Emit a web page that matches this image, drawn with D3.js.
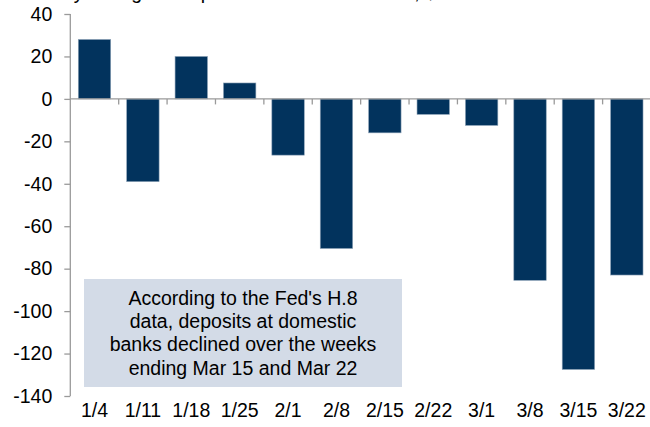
<!DOCTYPE html>
<html>
<head>
<meta charset="utf-8">
<script src="https://cdn.jsdelivr.net/npm/d3@7"></script>
<style>
  body { margin: 0; background: #fff; }
  svg { display: block; font-family: Arial, 'Liberation Sans', sans-serif; }
</style>
</head>
<body>
<div id="chart"></div>
<script>
// data (weekly change, $bn)
const weeks = ['1/4', '1/11', '1/18', '1/25', '2/1', '2/8', '2/15', '2/22', '3/1', '3/8', '3/15', '3/22']
const changes = [28, -39, 20, 7.5, -26.5, -70.5, -16, -7.3, -12.5, -85.5, -127.5, -83]
const yTicks = [40, 20, 0, -20, -40, -60, -80, -100, -120, -140]
const noteLines = ["According to the Fed's H.8", 'data, deposits at domestic', 'banks declined over the weeks', 'ending Mar 15 and Mar 22']

const width = 650
const height = 427
const fontSize = 19.5
const barColor = '#02335d'
const axisColor = '#9a9a9a'

const svg = d3.select('#chart').append('svg')
  .attr('width', width)
  .attr('height', height)

const x = d3.scaleBand()
  .domain(weeks)
  .range([70.3, 651])
  .paddingInner(0.33)
  .paddingOuter(0.165)

const y = d3.scaleLinear()
  .domain([-140, 40])
  .range([396, 14])

// title, mostly cut off above the window
svg.append('text')
  .attr('x', 20)
  .attr('y', -1)
  .attr('font-size', fontSize)
  .attr('fill', '#000')
  .text('Weekly change in deposits at domestic banks, $bn')

// bars
svg.append('g').selectAll('rect')
  .data(changes)
  .join('rect')
  .attr('x', (d, i) => x(weeks[i]))
  .attr('width', x.bandwidth())
  .attr('y', d => y(Math.max(0, d)))
  .attr('height', d => Math.abs(y(d) - y(0)))
  .attr('fill', barColor)
  .attr('stroke', '#8ea3b8')
  .attr('stroke-width', 0.6)

// y axis
const yAxis = svg.append('g')
  .attr('transform', 'translate(70.3,0)')
  .call(d3.axisLeft(y).tickValues(yTicks).tickSize(6).tickPadding(12).tickFormat(d3.format('d')))
yAxis.select('.domain').attr('stroke', axisColor).attr('stroke-width', 1.3)
  .attr('d', `M0,${y(40)}V${y(-140)}`)
yAxis.selectAll('.tick line').attr('stroke', axisColor).attr('stroke-width', 1.3)
yAxis.selectAll('.tick text')
  .attr('font-size', fontSize)
  .attr('font-family', 'Arial, Liberation Sans, sans-serif')
  .attr('fill', '#000')
  .text(d => d < 0 ? '-' + Math.abs(d) : d)

// zero line with category boundary ticks
const zero = svg.append('g').attr('stroke', axisColor).attr('stroke-width', 1.3)
zero.append('line')
  .attr('x1', 70.3).attr('x2', 651)
  .attr('y1', y(0)).attr('y2', y(0))
zero.selectAll('.bt')
  .data(weeks.slice(1))
  .join('line')
  .attr('class', 'bt')
  .attr('x1', d => x(d) - x.step() * x.paddingInner() / 2)
  .attr('x2', d => x(d) - x.step() * x.paddingInner() / 2)
  .attr('y1', y(0))
  .attr('y2', y(0) + 5.5)

// category labels along the bottom
const xAxis = svg.append('g')
  .attr('transform', 'translate(0,399)')
  .call(d3.axisBottom(x).tickSize(0).tickPadding(4))
xAxis.select('.domain').remove()
xAxis.selectAll('.tick text')
  .attr('font-size', fontSize)
  .attr('font-family', 'Arial, Liberation Sans, sans-serif')
  .attr('fill', '#000')

// note box
const note = svg.append('g')
note.append('rect')
  .attr('x', 84)
  .attr('y', 279)
  .attr('width', 318)
  .attr('height', 108)
  .attr('fill', '#d3dbe7')
note.selectAll('text')
  .data(noteLines)
  .join('text')
  .attr('x', 243)
  .attr('y', (d, i) => 305 + i * 23.2)
  .attr('text-anchor', 'middle')
  .attr('font-size', fontSize)
  .attr('fill', '#000')
  .text(d => d)
</script>
</body>
</html>
